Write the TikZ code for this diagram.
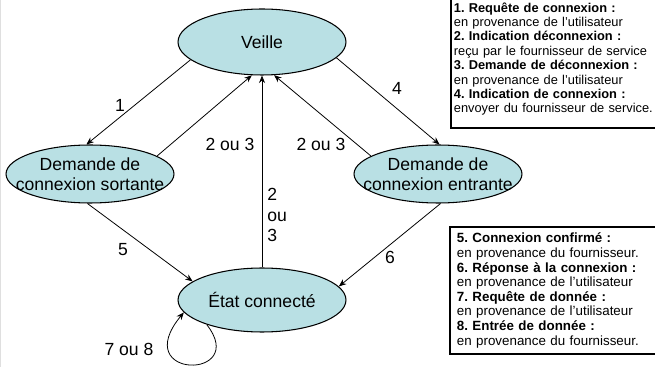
\documentclass[tikz,border=0pt]{standalone}
\usepackage{fontspec}
\setmainfont{Liberation Sans}
\usetikzlibrary{arrows.meta,shapes.geometric}
\definecolor{etatfill}{RGB}{185,224,228}
\frenchspacing
\tikzset{etat/.style={ellipse,draw,line width=0.6pt,fill=etatfill,minimum width=3.36cm,minimum height=1.16cm,
    inner sep=-1cm,align=center,font=\fontsize{10}{11.5}\selectfont},
  arr/.style={-{Stealth[length=1.5mm,width=1.2mm]},line width=0.45pt},
  legende/.style={draw,line width=1pt,align=left,anchor=west,inner xsep=0.06cm,font=\fontsize{7.3}{8.2}\selectfont}}

\begin{document}
\begin{tikzpicture}[x=0.02cm,y=-0.02cm,
  lbl/.style={font=\fontsize{10}{11.5}\selectfont,inner sep=0pt,align=left}]
\useasboundingbox (0,0) rectangle (655,367);
\draw[gray!25,line width=0.8pt] (0.5,0)--(0.5,367);
% etats
\node[etat,minimum height=1.32cm] (veille) at (262,42){Veille};
\node[etat] (sortante) at (90,174){Demande de\\connexion sortante};
\node[etat] (entrante) at (438,174){Demande de\\connexion entrante};
\node[etat,minimum height=1.28cm] (connecte) at (262,300){État connecté};
% transitions
\draw[arr] (veille.194)--(sortante.97); \draw[arr] (veille.-12)--(entrante.87);
\draw[arr] (sortante.15)--(veille.-107); \draw[arr] (entrante.165)--(veille.-70);
\draw[arr] (connecte.north)--(veille.south);
\draw[arr] (sortante.-95)--(connecte.165); \draw[arr] (entrante.-85)--(connecte.10);
\draw[arr] (connecte.204) .. controls (250,380) and (128,380) .. (connecte.189);
\node[lbl] (lab1) at (120,105){1};
\node[lbl] (lab4) at (397,88){4};
\node[lbl] (lab23g) at (230,144){2 ou 3};
\node[lbl] (lab23d) at (321,144){2 ou 3};
\node[lbl,anchor=west] (lab23v) at (267,215){2\\ou\\3};
\node[lbl] (lab5) at (123,250){5};
\node[lbl] (lab6) at (390,257){6};
\node[lbl] (lab78) at (129,349){7 ou 8};
% legendes
\node[legende,minimum height=2.76cm,text width=4.2cm] (leg1) at (450,59){%
\textbf{1. Requête de connexion :}\\en provenance de l'utilisateur\\
\textbf{2. Indication déconnexion :}\\reçu par le fournisseur de service\\
\textbf{3. Demande de déconnexion :}\\en provenance de l'utilisateur\\
\textbf{4. Indication de connexion :}\\envoyer du fournisseur de service.};
\node[legende,minimum height=2.46cm,text width=3.9cm,inner xsep=0.14cm,font=\fontsize{7.6}{8.3}\selectfont] (leg2) at (449,290.5){%
\textbf{5. Connexion confirmé :}\\en provenance du fournisseur.\\
\textbf{6. Réponse à la connexion :}\\en provenance de l'utilisateur\\
\textbf{7. Requête de donnée :}\\en provenance de l'utilisateur\\
\textbf{8. Entrée de donnée :}\\en provenance du fournisseur.};
\end{tikzpicture}
\end{document}
